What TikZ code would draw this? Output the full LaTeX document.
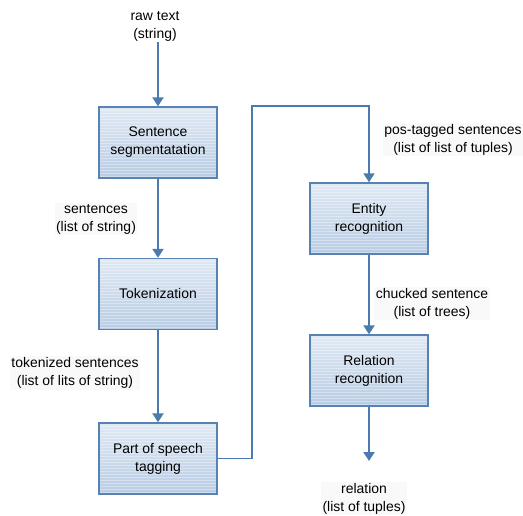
\documentclass[tikz,border=0pt]{standalone}
\usepackage{fontspec}
\setmainfont{Liberation Sans}
\usetikzlibrary{arrows.meta}
\definecolor{boxborder}{RGB}{88,130,178}
\definecolor{arrowcol}{RGB}{74,122,174}
\definecolor{boxtop}{RGB}{224,233,244}
\definecolor{boxbot}{RGB}{184,204,228}
\definecolor{labelbg}{RGB}{249,249,249}
\tikzset{
  stepbox/.style={draw=boxborder, line width=1.4bp, top color=boxtop, bottom color=boxbot,
    minimum width=118bp, minimum height=71bp, inner sep=0pt, align=center,
    font=\fontsize{14}{18}\selectfont,
    path picture={\foreach \k in {1,...,24}{\draw[white, opacity=0.35, line width=0.8bp]
      ([yshift=-\k*3bp]path picture bounding box.north west) -- ([yshift=-\k*3bp]path picture bounding box.north east);}}},
  lbl/.style={fill=labelbg, inner sep=1.5bp, align=center, font=\fontsize{14}{18}\selectfont},
  flow/.style={draw=arrowcol, line width=2.2bp, -{Triangle[width=11bp,length=9bp]}},
}
\begin{document}
\begin{tikzpicture}[x=1bp,y=-1bp]
\useasboundingbox (0,0) rectangle (523,516);
% boxes
\node[stepbox] (seg) at (158,142.5) {Sentence\\segmentatation};
\node[stepbox] (tok) at (158,294) {Tokenization};
\node[stepbox] (pos) at (158,458.5) {Part of speech\\tagging};
\node[stepbox] (ent) at (369,218.5) {Entity\\recognition};
\node[stepbox] (rel) at (369,370.5) {Relation\\recognition};
% labels
\node[lbl, fill=none] (raw) at (155,26) {raw text\\(string)};
\node[lbl] (l1) at (96,219) {sentences\\(list of string)};
\node[lbl] (l2) at (75,373) {tokenized sentences\\(list of lits of string)};
\node[lbl] (l3) at (453,139.5) {pos-tagged sentences\\(list of list of tuples)};
\node[lbl] (l4) at (432,303.5) {chucked sentence\\(list of trees)};
\node[lbl] (l5) at (364,498.5) {relation\\(list of tuples)};
% connectors
\coordinate (rawend) at (158,42);
\coordinate (relend) at (369,461);
\draw[flow] (rawend) -- (seg.north);
\draw[flow] (seg.south) -- (tok.north);
\draw[flow] (tok.south) -- (pos.north);
\draw[flow, line width=1.6bp] (pos.east) -- (252,458.5) -- (252,106) -- (369,106) -- (ent.north);
\draw[flow] (ent.south) -- (rel.north);
\draw[flow] (rel.south) -- (relend);
\end{tikzpicture}
\end{document}
